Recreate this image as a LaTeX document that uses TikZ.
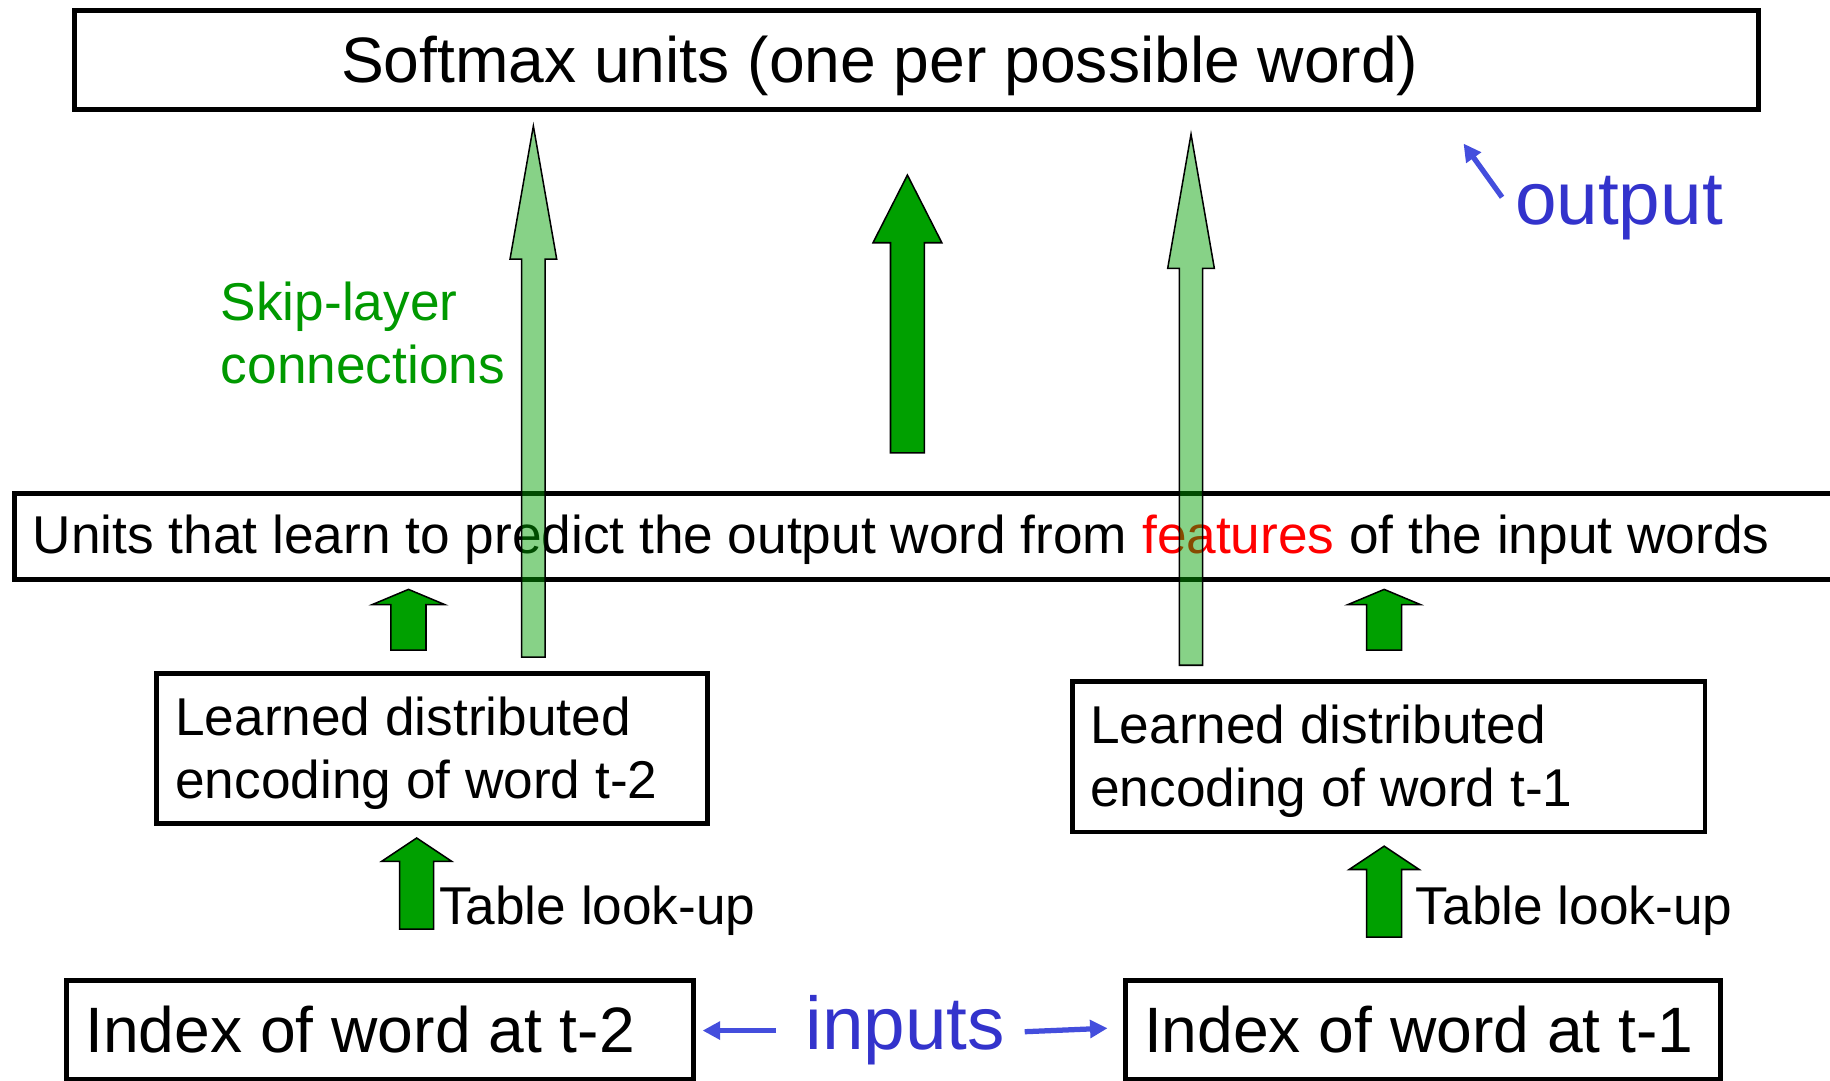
\documentclass[tikz,border=0pt]{standalone}
\usepackage{fontspec}
\setmainfont{Liberation Sans}
\usetikzlibrary{arrows.meta}

\definecolor{arrowgreen}{RGB}{0,160,0}
\definecolor{labelgreen}{RGB}{0,153,0}
\definecolor{labelblue}{RGB}{51,51,204}
\definecolor{pointerblue}{RGB}{68,78,221}
\definecolor{featred}{RGB}{255,0,0}

% Upward block arrow: style, centre x, bottom y, head base y, tip y, half shaft width, half head width
\newcommand\blockup[7]{%
  \draw[#1] ({#2-#6},#3) -- ({#2-#6},#4) -- ({#2-#7},#4) -- (#2,#5)
    -- ({#2+#7},#4) -- ({#2+#6},#4) -- ({#2+#6},#3) -- cycle;}

\begin{document}
\begin{tikzpicture}[x=1pt,y=-1pt,
  box/.style={draw=black, line width=4.2pt, rectangle, inner sep=0pt, anchor=north west},
  txt/.style={inner sep=0pt, anchor=base west, align=left},
  bigfont/.style={font=\fontsize{55}{64}\selectfont},
  midfont/.style={font=\fontsize{45.6}{54}\selectfont},
  bluefont/.style={font=\fontsize{64}{72}\selectfont, text=labelblue},
  solidarrow/.style={draw=black, line width=1.3pt, fill=arrowgreen},
  skiparrow/.style={draw=black, line width=1.3pt, fill=arrowgreen, fill opacity=0.47},
  pointer/.style={draw=pointerblue, line width=4.5pt, -{Triangle[length=15pt,width=15pt]}}
]
\clip (0,0) rectangle (1568,926);
\fill[white] (0,0) rectangle (1568,926);

% boxes, placed by the outer corner of their border
\node[box, minimum width=1442.8pt, minimum height=84.8pt] (softmax) at (62,7) {};
\node[box, minimum width=1600pt, minimum height=73.8pt] (units) at (10,421) {};
\node[box, minimum width=471.8pt, minimum height=128.8pt] (enc2) at (132,575) {};
\node[box, minimum width=541.8pt, minimum height=128.8pt] (enc1) at (917,582) {};
\node[box, minimum width=536.8pt, minimum height=85pt] (idx2) at (55,838) {};
\node[box, minimum width=509.8pt, minimum height=85pt] (idx1) at (962,838) {};

% texts (multi-line nodes sit on the baseline of their last line)
\node[txt, bigfont] (softmaxtext) at (292,71) {Softmax units (one per possible word)};
\node[txt, midfont, text=labelgreen] (skiptext) at (189,329) {Skip-layer\\connections};
\node[txt, bluefont] (outtext) at (1298,192) {output};
\node[txt, midfont] (unitstext) at (28,474) {Units that learn to predict the output word from \textcolor{featred}{features} of the input words};
\node[txt, midfont] (enc2text) at (150,684) {Learned distributed\\encoding of word t-2};
\node[txt, midfont] (enc1text) at (934,691) {Learned distributed\\encoding of word t-1};
\node[txt, midfont] (look2) at (376,792) {Table look-up};
\node[txt, midfont] (look1) at (1213,792) {Table look-up};
\node[txt, bigfont] (idx2text) at (73,902) {Index of word at t-2};
\node[txt, bigfont] (idx1text) at (980,902) {Index of word at t-1};
\node[txt, bluefont] (inputs) at (690,899) {inputs};

% solid block arrows
\blockup{solidarrow}{777.5}{388}{208}{150}{14.5}{29.5}
\blockup{solidarrow}{350}{557}{518}{505}{15}{31}
\blockup{solidarrow}{1186}{557}{518}{505}{15}{31}
\blockup{solidarrow}{357}{796}{738}{718}{14.5}{30}
\blockup{solidarrow}{1186}{803}{745}{725}{15}{30}

% skip-layer block arrows, see-through
\blockup{skiparrow}{457}{563}{222}{108}{10}{20}
\blockup{skiparrow}{1020.5}{570}{230}{115}{10}{20}

% blue pointers
\coordinate (outtail) at (1287,169);
\coordinate (outtip) at (1254,123);
\draw[pointer] (outtail) -- (outtip);
\coordinate (inleft) at (665,883);
\coordinate (inright) at (878,884);
\draw[pointer] (inleft) -- ([xshift=6pt]idx2.east |- inleft);
\draw[pointer] (inright) -- ([xshift=-13pt,yshift=3pt]idx1.west |- inright);
\end{tikzpicture}
\end{document}
